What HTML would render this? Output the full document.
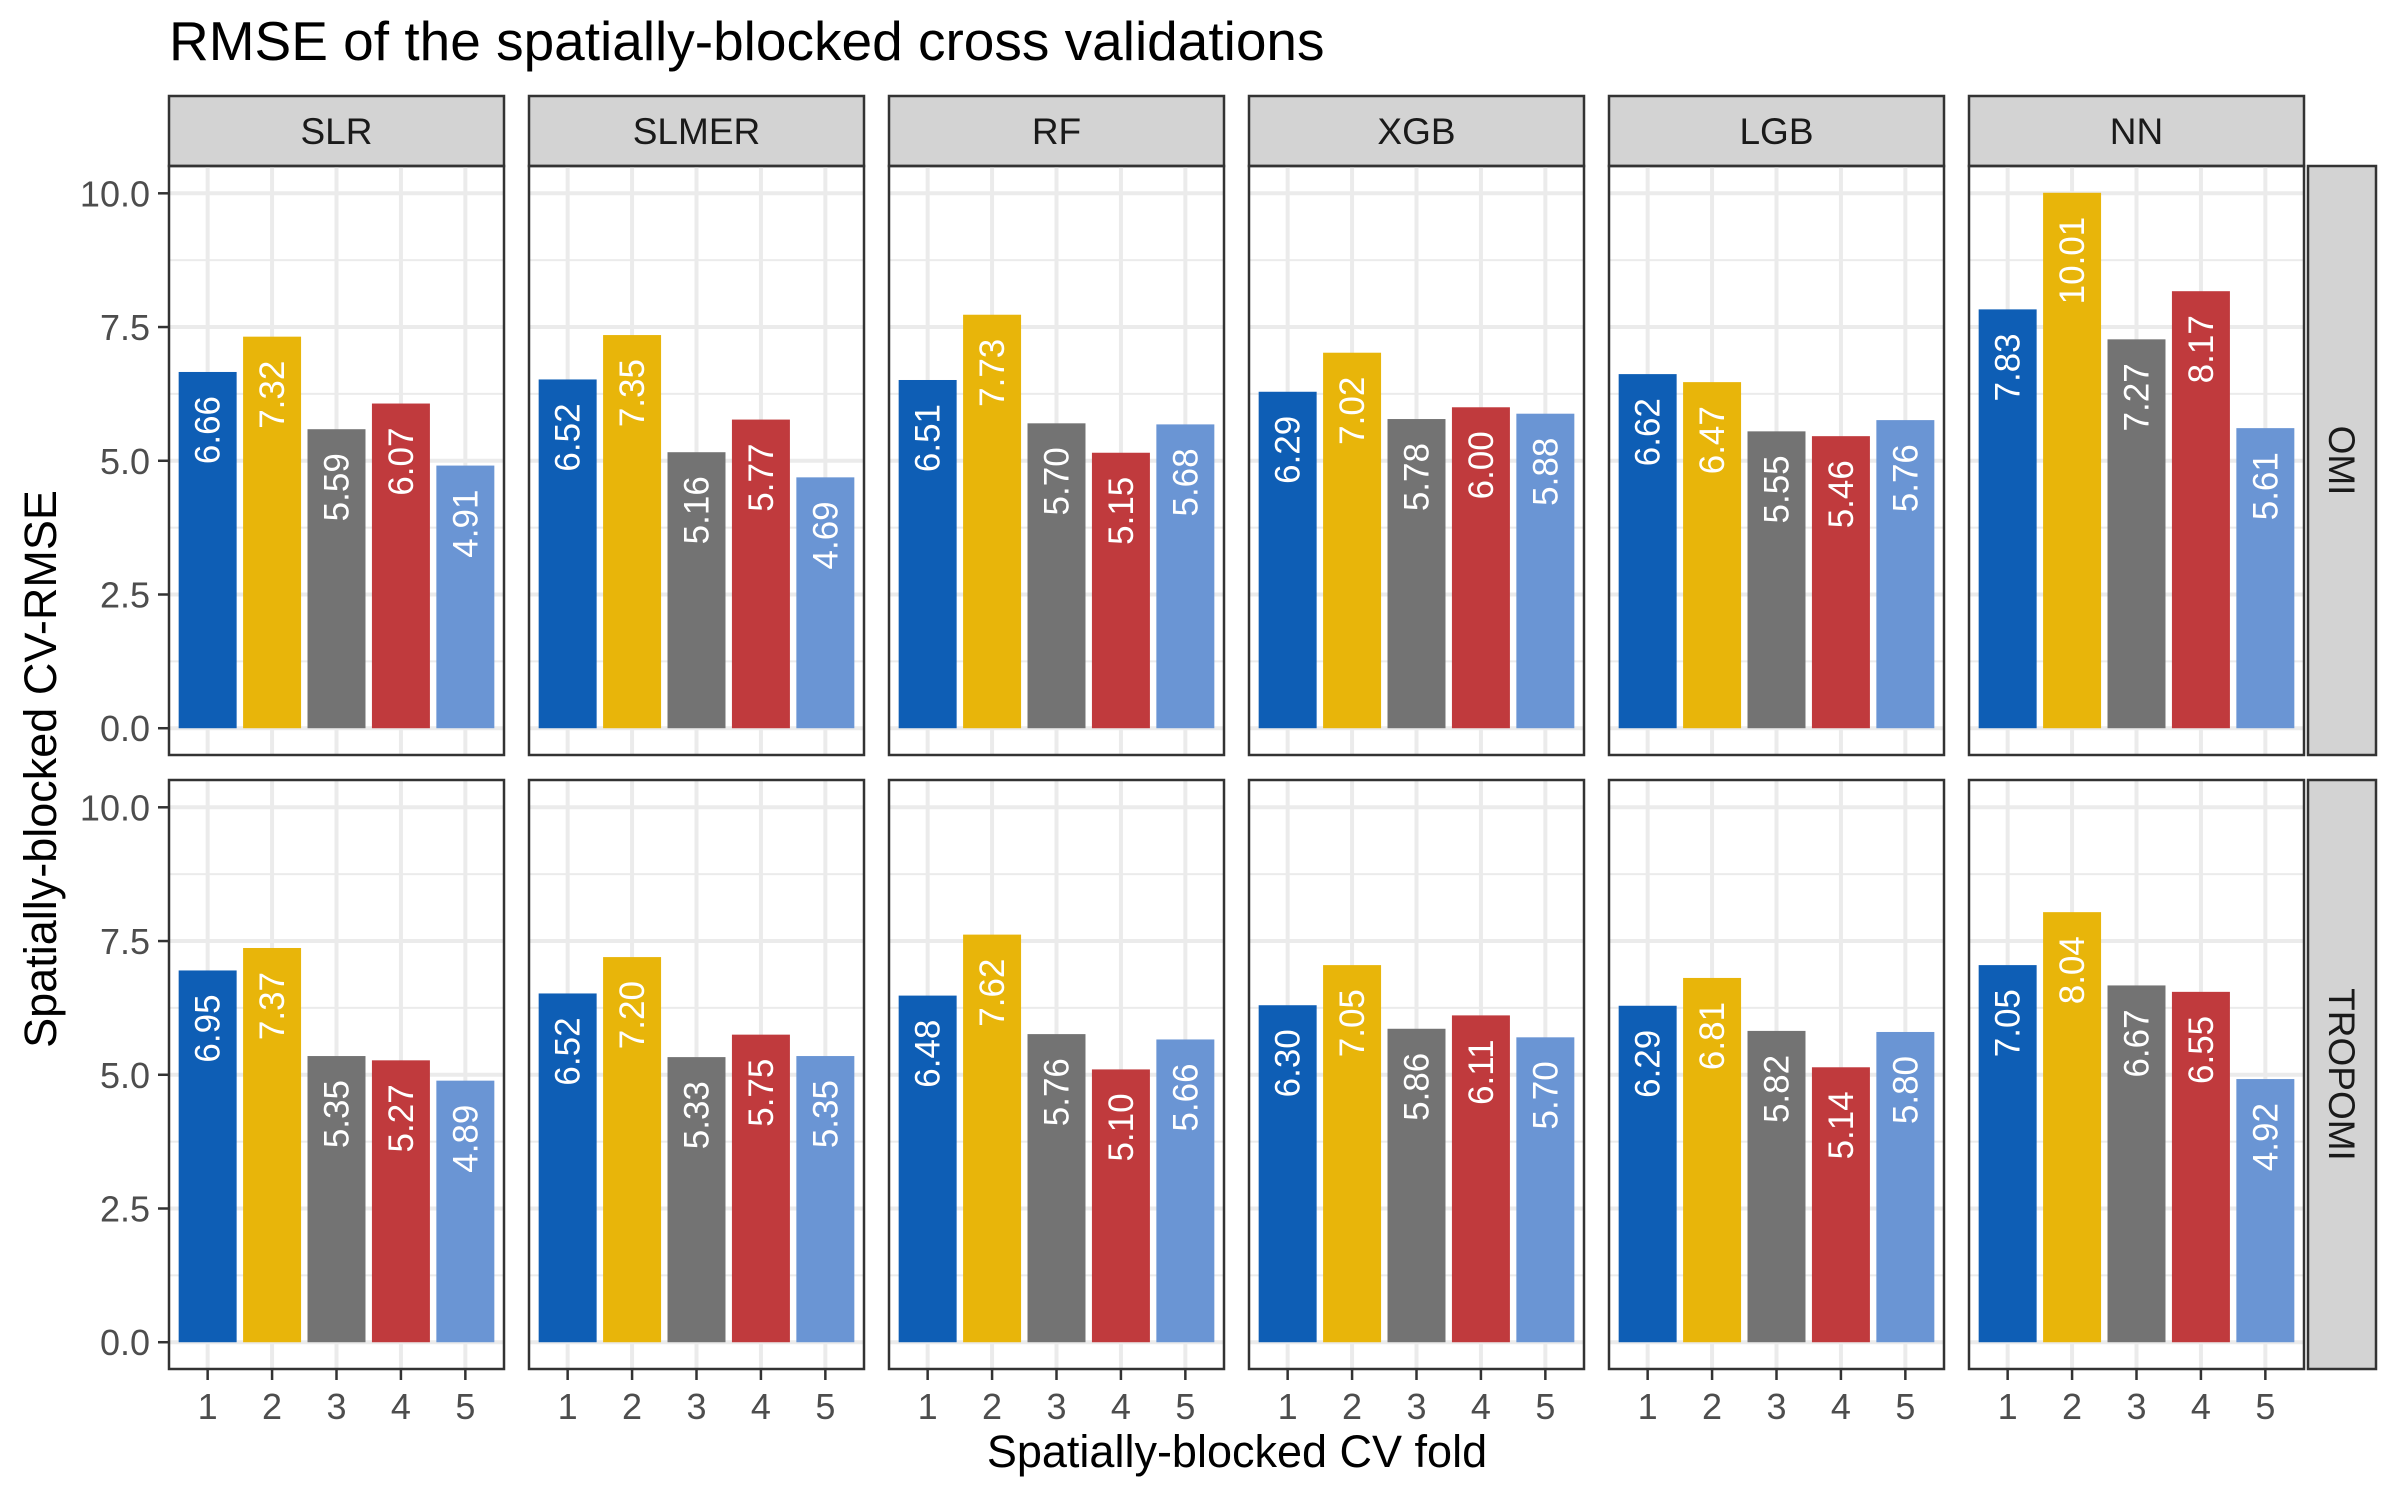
<!DOCTYPE html>
<html><head><meta charset="utf-8"><style>
html,body{margin:0;padding:0;background:#fff}
svg{display:block;font-family:"Liberation Sans",Arial,sans-serif}
</style></head><body>
<svg id="chart" width="2400" height="1500" viewBox="0 0 2400 1500" xmlns="http://www.w3.org/2000/svg">
<rect width="2400" height="1500" fill="#fff"/>
<text x="169" y="60" font-size="55" fill="#000">RMSE of the spatially-blocked cross validations</text>
<text x="1237" y="1467" font-size="45" text-anchor="middle" fill="#000">Spatially-blocked CV fold</text>
<text transform="translate(56,769) rotate(-90)" font-size="45" text-anchor="middle" fill="#000">Spatially-blocked CV-RMSE</text>
<g id="plots"></g>
</svg>
<script>
const models = ["SLR","SLMER","RF","XGB","LGB","NN"];
const sensors = ["OMI","TROPOMI"];
const folds = ["1","2","3","4","5"];
const omiValues = [
  [6.66,7.32,5.59,6.07,4.91],
  [6.52,7.35,5.16,5.77,4.69],
  [6.51,7.73,5.70,5.15,5.68],
  [6.29,7.02,5.78,6.00,5.88],
  [6.62,6.47,5.55,5.46,5.76],
  [7.83,10.01,7.27,8.17,5.61]
];
const tropomiValues = [
  [6.95,7.37,5.35,5.27,4.89],
  [6.52,7.20,5.33,5.75,5.35],
  [6.48,7.62,5.76,5.10,5.66],
  [6.30,7.05,5.86,6.11,5.70],
  [6.29,6.81,5.82,5.14,5.80],
  [7.05,8.04,6.67,6.55,4.92]
];
const yTicks = [0,2.5,5,7.5,10];
const yTickLabels = ["0.0","2.5","5.0","7.5","10.0"];

const colors = ["#0E5EB5","#E8B50A","#737373","#C03A3D","#6A95D4"];
const NS = "http://www.w3.org/2000/svg";
const g = document.getElementById("plots");
function mk(tag, attrs, parent){
  const e = document.createElementNS(NS, tag);
  for (const k in attrs) e.setAttribute(k, attrs[k]);
  (parent||g).appendChild(e); return e;
}
const panelW = 335, panelStep = 360, panelX0 = 169;
const rowTop = [166, 780], panelH = 589;
const allVals = [omiValues, tropomiValues];
const maxV = Math.max(...omiValues.flat(), ...tropomiValues.flat());
const yMin = -0.05*maxV, yMax = maxV*1.05;
function xScale(px, i){
  return px + (i + 1 - 0.4) / 5.2 * panelW;
}
function yScale(top, v){ return top + panelH - (v - yMin)/(yMax - yMin)*panelH; }

for (let c=0;c<models.length;c++){
  const px = panelX0 + c*panelStep;
  const st = mk("rect",{x:px,y:96,width:panelW,height:70,fill:"#d3d3d3",stroke:"#333","stroke-width":2.5});
  
  
  const stt = mk("text",{x:px+panelW/2,y:144,"font-size":37,"text-anchor":"middle",fill:"#1a1a1a"});
  stt.textContent = models[c];
  
  
  for (let r=0;r<2;r++){
    const top = rowTop[r];
    const grp = mk("g",{});
    
    
    for (let t=0;t<yTicks.length-1;t++){
      const y = yScale(top,(yTicks[t]+yTicks[t+1])/2);
      mk("line",{x1:px,x2:px+panelW,y1:y,y2:y,stroke:"#ebebeb","stroke-width":2},grp);
    }
    for (let t=0;t<yTicks.length;t++){
      const y = yScale(top,yTicks[t]);
      mk("line",{x1:px,x2:px+panelW,y1:y,y2:y,stroke:"#ebebeb","stroke-width":4},grp);
    }
    for (let i=0;i<folds.length;i++){
      const x = xScale(px,i);
      mk("line",{x1:x,x2:x,y1:top,y2:top+panelH,stroke:"#ebebeb","stroke-width":4},grp);
    }
    const vals = allVals[r][c];
    const bw = 0.9/5.2*panelW;
    for (let i=0;i<folds.length;i++){
      const cx = xScale(px,i);
      const y0 = yScale(top,0), y1 = yScale(top,vals[i]);
      const b = mk("rect",{x:cx-bw/2,y:y1,width:bw,height:y0-y1,fill:colors[i]},grp);
      
      
      const lt = mk("text",{transform:`translate(${cx+12},${y1+24}) rotate(-90)`,"font-size":35,"text-anchor":"end",fill:"#fff"},grp);
      lt.textContent = vals[i].toFixed(2);
      
      
    }
    mk("rect",{x:px,y:top,width:panelW,height:panelH,fill:"none",stroke:"#333","stroke-width":2.5},grp);
    if (c===0){
      for (let t=0;t<yTicks.length;t++){
        const y = yScale(top,yTicks[t]);
        mk("line",{x1:px-11,x2:px,y1:y,y2:y,stroke:"#333","stroke-width":2.5},grp);
        const tl = mk("text",{x:px-19,y:y+13,"font-size":36,"text-anchor":"end",fill:"#4d4d4d"},grp);
        tl.textContent = yTickLabels[t];
        
        
      }
    }
    if (r===1){
      for (let i=0;i<folds.length;i++){
        const x = xScale(px,i);
        mk("line",{x1:x,x2:x,y1:top+panelH,y2:top+panelH+11,stroke:"#333","stroke-width":2.5},grp);
        const tl = mk("text",{x:x,y:top+panelH+50,"font-size":36,"text-anchor":"middle",fill:"#4d4d4d"},grp);
        tl.textContent = folds[i];
        
        
      }
    }
  }
}
for (let r=0;r<2;r++){
  const top = rowTop[r];
  const s = mk("rect",{x:2308,y:top,width:68,height:panelH,fill:"#d3d3d3",stroke:"#333","stroke-width":2.5});
  
  
  const t = mk("text",{transform:`translate(2329,${top+panelH/2}) rotate(90)`,"font-size":37,"text-anchor":"middle",fill:"#1a1a1a"});
  t.textContent = sensors[r];
  
  
}
</script>
</body></html>
